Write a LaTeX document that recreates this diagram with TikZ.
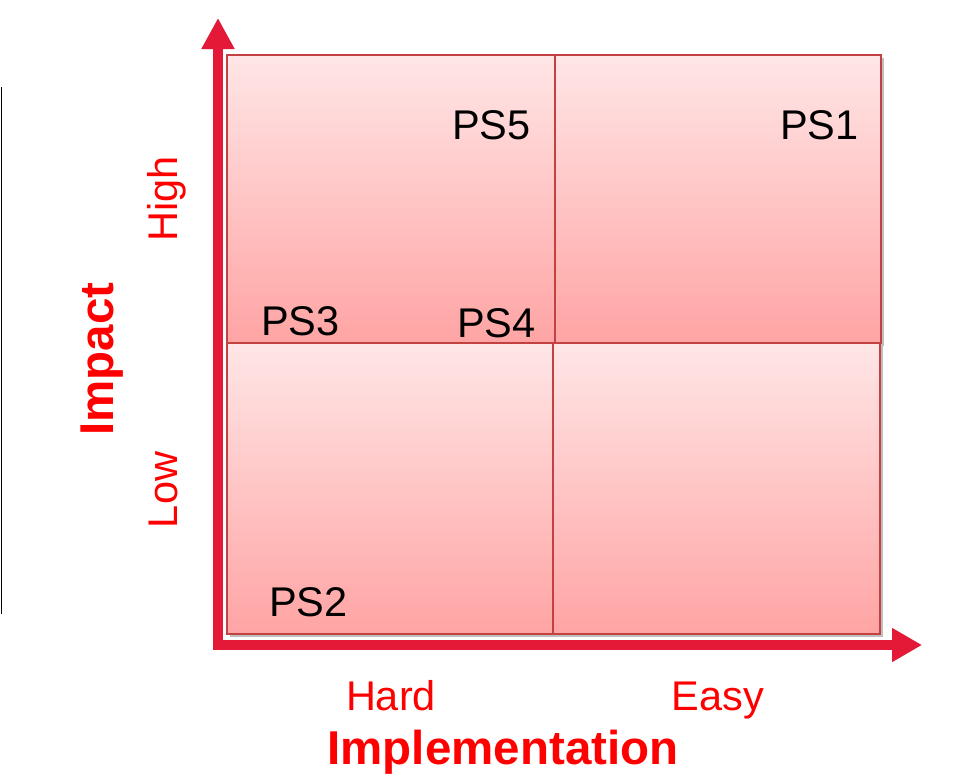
\documentclass[tikz,border=0pt]{standalone}
\usepackage{fontspec}
\setmainfont{Liberation Sans}
\usetikzlibrary{arrows.meta,shadows}
\definecolor{axisred}{RGB}{227,25,55}
\definecolor{labelred}{RGB}{255,0,0}
\definecolor{quadtop}{RGB}{255,230,230}
\definecolor{quadbot}{RGB}{255,164,164}
\definecolor{quadedge}{RGB}{195,65,65}
\tikzset{
  quad/.style={draw=quadedge, line width=2pt, top color=quadtop, bottom color=quadbot,
    drop shadow={shadow xshift=3pt, shadow yshift=-3pt, opacity=0.25, fill=black}},
  pslabel/.style={anchor=base west, inner sep=0pt, font=\fontsize{41.5}{48}\selectfont, text=black},
  axislabel/.style={anchor=base, inner sep=0pt, font=\fontsize{41.5}{48}\selectfont, text=labelred},
  axistitle/.style={anchor=base, inner sep=0pt, font=\bfseries\fontsize{47.5}{56}\selectfont, text=labelred},
  axisline/.style={line width=10pt, line join=miter,
    {Triangle[width=31pt,length=31pt]}-{Triangle[width=32pt,length=30pt]}},
}
\begin{document}
\begin{tikzpicture}[x=1pt,y=-1pt]
\useasboundingbox (0,0) rectangle (970,782);

% left black edge line
\coordinate (lt) at (1.5,87);
\coordinate (lb) at (1.5,614);
\draw[line width=1.5pt, black] (lt) -- (lb);

% quadrants
\path[quad] (227,55) rectangle (555,343);
\path[quad] (555,55) rectangle (881,343);
\path[quad] (227,343) rectangle (553,634);
\path[quad] (553,343) rectangle (880,634);

% axes
\coordinate (ytip) at (218,18);
\coordinate (origin) at (218,645);
\coordinate (xtip) at (922,645);
\begin{scope}[xshift=3pt, yshift=-3pt]
\draw[axisline, draw=black, opacity=0.18] (ytip) -- (origin) -- (xtip);
\end{scope}
\draw[axisline, draw=axisred] (ytip) -- (origin) -- (xtip);

% point labels
\node[pslabel] (ps5) at (452,139) {PS5};
\node[pslabel] (ps1) at (780,139) {PS1};
\node[pslabel] (ps3) at (261,335) {PS3};
\node[pslabel] (ps4) at (457,337) {PS4};
\node[pslabel] (ps2) at (269,616) {PS2};

% axis labels
\node[axislabel, rotate=90] (high) at (177,199) {High};
\node[axislabel, rotate=90] (low) at (177,490) {Low};
\node[axistitle, rotate=90] (impact) at (113,359) {Impact};
\node[axislabel] (hard) at (391,710) {Hard};
\node[axislabel] (easy) at (718,710) {Easy};
\node[axistitle] (impl) at (503,764) {Implementation};
\end{tikzpicture}
\end{document}
